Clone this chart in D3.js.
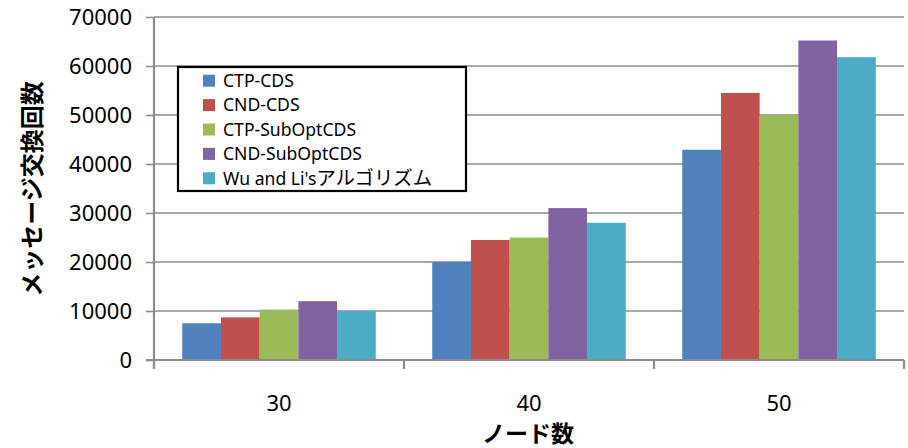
<!DOCTYPE html>
<html>
<head>
<meta charset="utf-8">
<script src="https://cdn.jsdelivr.net/npm/d3@7/dist/d3.min.js"></script>
<style>
  body { margin: 0; background: #fff; }
  svg { display: block; }
</style>
</head>
<body>
<svg id="chart" width="908" height="448"></svg>
<script>
// Node counts on the x axis
const categories = ["30", "40", "50"];
// Series names, in legend order
const seriesNames = ["CTP-CDS", "CND-CDS", "CTP-SubOptCDS", "CND-SubOptCDS", "Wu and Li'sアルゴリズム"];
const seriesColors = ["#4f81bd", "#c0504d", "#9bbb59", "#8064a2", "#4bacc6"];
// Message exchange counts per series, one value per node count
const ctpCds        = [7500, 20000, 42900];
const cndCds        = [8700, 24500, 54500];
const ctpSubOptCds  = [10300, 25000, 50000];
const cndSubOptCds  = [12000, 31000, 65200];
const wuLi          = [10000, 28000, 61800];
const seriesValues = [ctpCds, cndCds, ctpSubOptCds, cndSubOptCds, wuLi];
const yTicks = [0, 10000, 20000, 30000, 40000, 50000, 60000, 70000];

const svg = d3.select("#chart");
const plotLeft = 154, plotRight = 904, plotTop = 17, plotBottom = 360;
const gridColor = "#8c8c8c";
const tickFont = "'Noto Sans', 'DejaVu Sans', sans-serif";
const cjkFont = "'Noto Sans CJK JP', sans-serif";

const x = d3.scaleBand().domain(categories).range([plotLeft, plotRight]);
const inner = d3.scaleBand().domain(d3.range(seriesNames.length))
  .range([0, x.bandwidth()]).paddingOuter(0.73).paddingInner(0);
const y = d3.scaleLinear().domain([0, 70000]).range([plotBottom, plotTop]);

// Horizontal gridlines
svg.append("g").selectAll("line").data(yTicks.filter(d => d > 0)).join("line")
  .attr("x1", plotLeft).attr("x2", plotRight)
  .attr("y1", d => y(d)).attr("y2", d => y(d))
  .attr("stroke", gridColor).attr("stroke-width", 1.6);

// Bars
const groups = svg.append("g").selectAll("g").data(categories).join("g")
  .attr("transform", c => `translate(${x(c)},0)`);
groups.selectAll("rect")
  .data((c, ci) => seriesValues.map((vals, si) => ({ si, v: vals[ci] })))
  .join("rect")
  .attr("x", d => inner(d.si))
  .attr("width", inner.bandwidth())
  .attr("y", d => y(d.v))
  .attr("height", d => y(0) - y(d.v))
  .attr("fill", d => seriesColors[d.si]);

// Y axis
const yAxis = svg.append("g").attr("transform", `translate(${plotLeft},0)`)
  .call(d3.axisLeft(y).tickValues(yTicks).tickSize(8).tickPadding(14).tickFormat(d3.format("d")));
yAxis.select(".domain").attr("stroke", gridColor).attr("stroke-width", 2.2)
  .attr("d", `M0,${plotTop}V${plotBottom + 8}`);
yAxis.selectAll(".tick line").attr("stroke", gridColor).attr("stroke-width", 1.6);
yAxis.selectAll(".tick text").attr("font-family", tickFont).attr("font-size", 22)
  .attr("fill", "#000").attr("dy", "0.36em");

// X axis with ticks on category boundaries
const xAxis = svg.append("g").attr("transform", `translate(0,${plotBottom})`)
  .call(d3.axisBottom(x).tickSize(0).tickPadding(35));
xAxis.select(".domain").attr("stroke", gridColor).attr("stroke-width", 2.2)
  .attr("d", `M${plotLeft - 8},0H${plotRight}`);
xAxis.selectAll(".tick text").attr("font-family", tickFont).attr("font-size", 22).attr("fill", "#000");
const boundaries = categories.map(c => x(c)).concat([x(categories[categories.length - 1]) + x.bandwidth()]);
svg.append("g").selectAll("line").data(boundaries).join("line")
  .attr("x1", d => d).attr("x2", d => d)
  .attr("y1", plotBottom).attr("y2", plotBottom + 9)
  .attr("stroke", gridColor).attr("stroke-width", 2.2);

// Axis titles
svg.append("text")
  .attr("transform", "translate(41,189) rotate(-90)")
  .attr("text-anchor", "middle")
  .attr("font-family", cjkFont).attr("font-weight", "bold").attr("font-size", 24)
  .text("メッセージ交換回数");
svg.append("text")
  .attr("x", 528).attr("y", 442)
  .attr("text-anchor", "middle")
  .attr("font-family", cjkFont).attr("font-weight", "bold").attr("font-size", 23)
  .text("ノード数");

// Legend
const legend = svg.append("g");
legend.append("rect")
  .attr("x", 178).attr("y", 67).attr("width", 288).attr("height", 124)
  .attr("fill", "#fff").attr("stroke", "#000").attr("stroke-width", 2.2);
const items = legend.selectAll("g.item").data(seriesNames).join("g")
  .attr("class", "item")
  .attr("transform", (d, i) => `translate(0,${80.7 + i * 24.4})`);
items.append("rect")
  .attr("x", 203).attr("y", -6).attr("width", 12).attr("height", 12)
  .attr("fill", (d, i) => seriesColors[i]);
// Latin and Japanese runs are set in separate tspans so the kana get a wider face
const cjkRun = /[\u3040-\u30ff\u4e00-\u9fff]+|[^\u3040-\u30ff\u4e00-\u9fff]+/g;
items.append("text")
  .attr("x", 223).attr("y", 0).attr("dy", "0.36em")
  .attr("font-family", "'Noto Sans', sans-serif").attr("font-size", 17.6)
  .selectAll("tspan").data(d => d.match(cjkRun)).join("tspan")
  .attr("font-family", s => /[\u3040-\u30ff]/.test(s) ? cjkFont : null)
  .attr("font-size", s => /[\u3040-\u30ff]/.test(s) ? 19.4 : null)
  .text(s => s);
</script>
</body>
</html>
